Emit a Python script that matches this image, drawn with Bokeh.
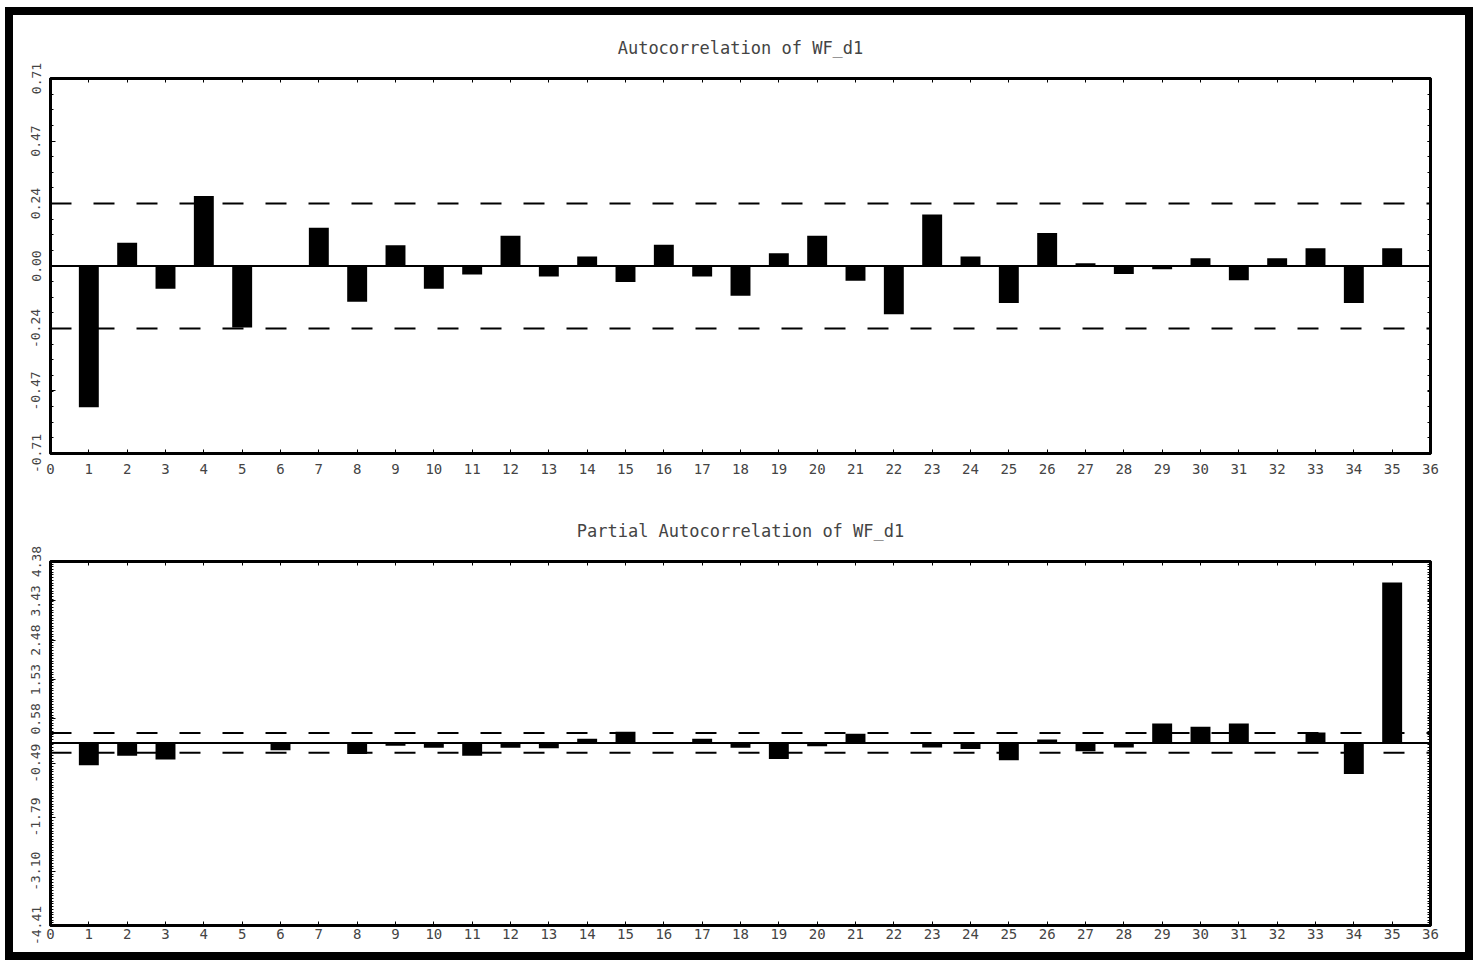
import math
import numpy as np
from bokeh.plotting import figure
from bokeh.models import (Range1d, FixedTicker, LinearAxis, PrintfTickFormatter,
                          Span, ColumnDataSource)
from bokeh.layouts import column
from bokeh.embed import file_html
from bokeh.resources import INLINE

# ---------------- data ----------------
lags = list(range(1, 36))
acf_vals = [-0.535, 0.088, -0.086, 0.265, -0.233, 0.0, 0.145, -0.135, 0.079, -0.086,
            -0.032, 0.115, -0.040, 0.036, -0.061, 0.080, -0.040, -0.113, 0.048, 0.115,
            -0.056, -0.183, 0.195, 0.036, -0.140, 0.125, 0.010, -0.030, -0.012, 0.029,
            -0.054, 0.029, 0.067, -0.140, 0.067]
pacf_vals = [-0.54, -0.31, -0.40, 0.0, 0.0, -0.18, 0.0, -0.27, -0.07, -0.12,
             -0.31, -0.12, -0.13, 0.10, 0.27, 0.0, 0.10, -0.12, -0.39, -0.08,
             0.22, 0.0, -0.11, -0.15, -0.42, 0.08, -0.20, -0.11, 0.47, 0.39,
             0.47, 0.0, 0.25, -0.75, 3.87]
acf_conf = 0.237
pacf_conf = 0.237
x_ticks = list(range(0, 37))
acf_yticks = [-0.71, -0.4733, -0.2367, 0.0, 0.2367, 0.4733, 0.71]
pacf_yticks = [-4.41, -3.10, -1.79, -0.49, 0.58, 1.53, 2.48, 3.43, 4.38]
titles = ["Autocorrelation of WF_d1", "Partial Autocorrelation of WF_d1"]

FONT = "DejaVu Sans Mono"
FIG_W = 1452


def make(title, vals, conf, ylo, yhi, yticks, minor, height, mb_top, mb_bottom,
         xlab_standoff):
    p = figure(width=FIG_W, height=height, x_range=Range1d(0, 36),
               y_range=Range1d(ylo, yhi), output_backend="svg",
               toolbar_location=None, min_border_left=37, min_border_right=35,
               min_border_top=mb_top, min_border_bottom=mb_bottom,
               x_axis_location=None, y_axis_location=None)
    p.grid.visible = False
    p.outline_line_color = "black"
    p.outline_line_width = 3
    p.background_fill_color = "white"
    p.border_fill_color = "white"

    p.title.text = title
    p.title.align = "center"
    p.title.text_font = FONT
    p.title.text_font_size = "17px"
    p.title.text_font_style = "normal"
    p.title.standoff = 41

    # bottom x axis with labels
    xb = LinearAxis(ticker=FixedTicker(ticks=x_ticks, minor_ticks=[]))
    xb.axis_line_width = 3
    xb.major_tick_in = 4
    xb.major_tick_out = 0
    xb.minor_tick_in = 0
    xb.minor_tick_out = 0
    xb.major_label_text_font = FONT
    xb.major_label_text_font_size = "14px"
    xb.major_label_standoff = xlab_standoff
    p.add_layout(xb, "below")

    # top x axis: ticks only
    xt = LinearAxis(ticker=FixedTicker(ticks=[], minor_ticks=x_ticks))
    xt.axis_line_width = 3
    xt.major_tick_in = 0
    xt.major_tick_out = 0
    xt.minor_tick_in = 4
    xt.minor_tick_out = 0
    xt.minor_tick_line_width = 1
    p.add_layout(xt, "above")

    # left y axis with labels
    yl = LinearAxis(ticker=FixedTicker(ticks=yticks, minor_ticks=minor),
                    formatter=PrintfTickFormatter(format="%.2f"))
    yl.axis_line_width = 3
    yl.major_tick_in = 5
    yl.major_tick_out = 0
    yl.minor_tick_in = 3
    yl.minor_tick_out = 0
    yl.major_tick_line_width = 1
    yl.minor_tick_line_width = 1
    yl.major_label_text_font = FONT
    yl.major_label_text_font_size = "13px"
    yl.major_label_orientation = "vertical"
    yl.major_label_standoff = 10
    p.add_layout(yl, "left")

    # right y axis: ticks only
    yr = LinearAxis(ticker=FixedTicker(ticks=[], minor_ticks=list(yticks) + list(minor)))
    yr.axis_line_width = 3
    yr.major_tick_in = 0
    yr.major_tick_out = 0
    yr.minor_tick_in = 3
    yr.minor_tick_out = 0
    yr.minor_tick_line_width = 1
    p.add_layout(yr, "right")

    src = ColumnDataSource(dict(lag=lags, val=vals))
    p.vbar(x="lag", top="val", bottom=0, width=0.52, source=src,
           fill_color="black", line_color=None)

    p.add_layout(Span(location=0, dimension="width", line_color="black",
                      line_width=2))
    for c in (conf, -conf):
        p.add_layout(Span(location=c, dimension="width", line_color="black",
                          line_width=2, line_dash="21 22"))
    return p


acf_minor = list(np.linspace(-0.71, 0.71, 25))
pacf_minor = list(np.linspace(-4.41, 4.38, 136))

p1 = make(titles[0], acf_vals, acf_conf, -0.71, 0.71, acf_yticks, acf_minor,
          480, 62, 42, 10)
p2 = make(titles[1], pacf_vals, pacf_conf, -4.41, 4.38, pacf_yticks, pacf_minor,
          457, 66, 27, 3)

layout = column(p1, p2, styles={"border": "8px solid black",
                                "background-color": "white",
                                "margin-left": "5px",
                                "margin-top": "7px"})

open("out.html", "w").write(file_html(layout, INLINE))
